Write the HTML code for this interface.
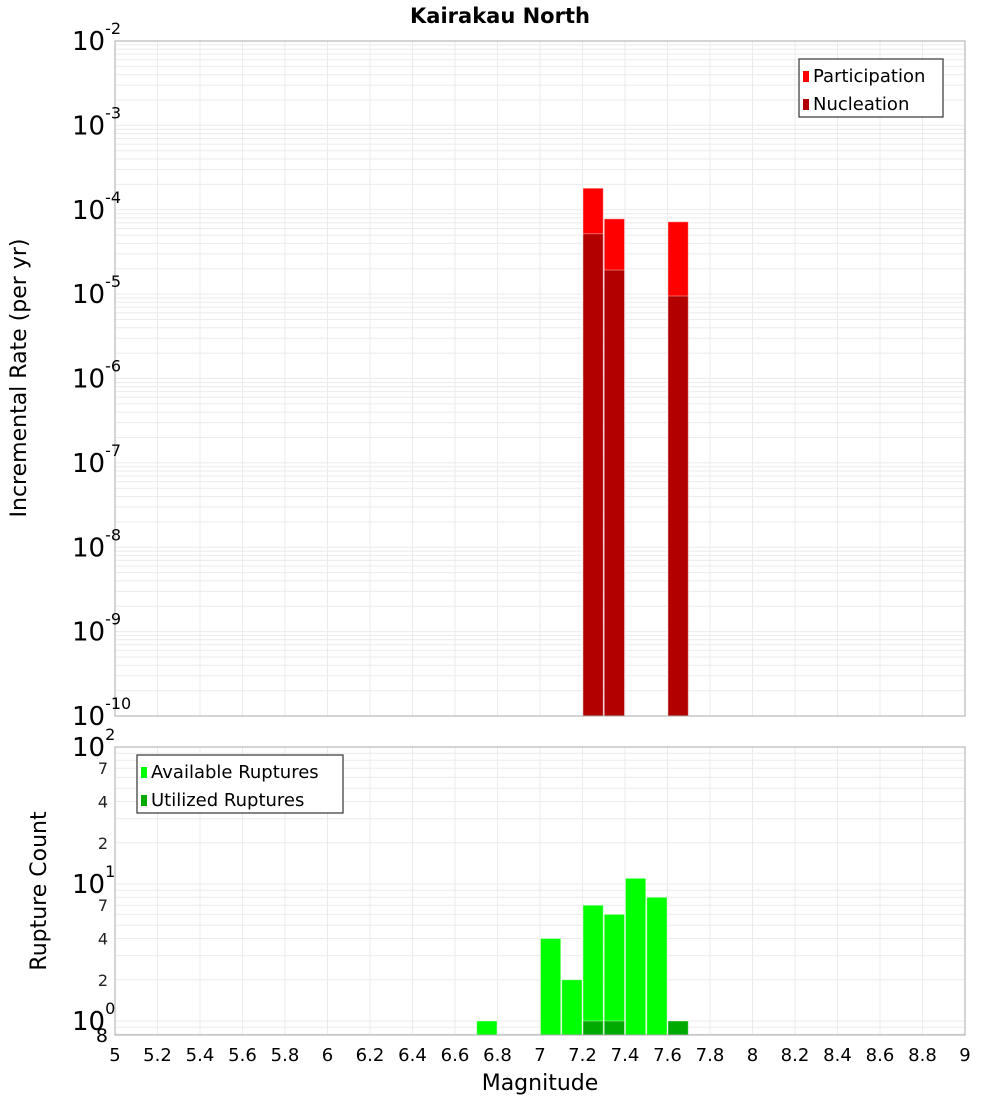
<!DOCTYPE html>
<html><head><meta charset="utf-8"><style>
body{margin:0;background:#fff;}
svg{display:block;font-family:"DejaVu Sans","Liberation Sans",sans-serif;}
</style></head><body>
<svg id="c" width="1000" height="1100">
<text x="500" y="23" text-anchor="middle" font-size="21" font-weight="bold">Kairakau North</text>
<g id="gtop"></g><g id="gbot"></g>
<text transform="translate(26,378) rotate(-90)" text-anchor="middle" font-size="22">Incremental Rate (per yr)</text>
<text transform="translate(46,891) rotate(-90)" text-anchor="middle" font-size="22">Rupture Count</text>
<text x="540" y="1090" text-anchor="middle" font-size="22">Magnitude</text>
</svg>
<script>
const mags=[7.25,7.35,7.65];
const participation=[1.8e-4,7.8e-5,7.2e-5];
const nucleation=[5.2e-5,1.93e-5,9.5e-6];
const availMags=[6.75,7.05,7.15,7.25,7.35,7.45,7.55];
const availCounts=[1,4,2,7,6,11,8];
const utilMags=[7.25,7.35,7.65];
const utilCounts=[1,1,1];
const xTicks=[5,5.2,5.4,5.6,5.8,6,6.2,6.4,6.6,6.8,7,7.2,7.4,7.6,7.8,8,8.2,8.4,8.6,8.8,9];
const topExps=[-2,-3,-4,-5,-6,-7,-8,-9,-10];
const botMinor=[2,4,7];

const NS="http://www.w3.org/2000/svg";
const X0=115,X1=965;
const x=m=>X0+(m-5)/4*(X1-X0);
const T0=41,T1=716;
const yTop=v=>T0+(-2-Math.log10(v))/8*(T1-T0);
const B0=747,B1=1035,BD=137;
const yBot=v=>B0+(2-Math.log10(v))*BD;
function el(p,t,a){const e=document.createElementNS(NS,t);for(const k in a)e.setAttribute(k,a[k]);p.appendChild(e);return e;}
const gTop=document.getElementById('gtop'),gBot=document.getElementById('gbot');

for(let d=-10;d<-2;d++)for(let k=1;k<10;k++){const yy=yTop(k*Math.pow(10,d));if(yy<T0||yy>T1)continue;
 const g=el(gTop,'line',{x1:X0,x2:X1,y1:yy,y2:yy,stroke:'#ebebeb','stroke-width':1});
 
 }
for(let d=-1;d<2;d++)for(let k=1;k<10;k++){const yy=yBot(k*Math.pow(10,d));if(yy<B0||yy>B1)continue;
 const g=el(gBot,'line',{x1:X0,x2:X1,y1:yy,y2:yy,stroke:'#ebebeb','stroke-width':1});
 
 }
xTicks.forEach(t=>{[[gTop,T0,T1],[gBot,B0,B1]].forEach(([p,a,b])=>{
 const g=el(p,'line',{x1:x(t),x2:x(t),y1:a,y2:b,stroke:'#ebebeb','stroke-width':1});
 
 });
 const tx=el(gBot,'text',{x:x(t),y:1061,'text-anchor':'middle','font-size':18});tx.textContent=String(t);
 
 });

function bar(p,m,y,yb,fill,name){const r=el(p,'rect',{x:x(m-0.05)+0.5,width:x(0.1+5)-X0-1,y:y,height:Math.max(0,yb-y),fill:fill,stroke:'#fff','stroke-opacity':0.4,'stroke-width':1});
 
 }
mags.forEach((m,i)=>bar(gTop,m,yTop(participation[i]),T1,'#ff0000','participation-bar'));
mags.forEach((m,i)=>bar(gTop,m,yTop(nucleation[i]),T1,'#b20000','nucleation-bar'));
availMags.forEach((m,i)=>bar(gBot,m,yBot(availCounts[i]),B1,'#00ff00','available-ruptures-bar'));
utilMags.forEach((m,i)=>bar(gBot,m,yBot(utilCounts[i]),B1,'#00aa00','utilized-ruptures-bar'));

let f=el(gTop,'rect',{x:X0,y:T0,width:X1-X0,height:T1-T0,fill:'none',stroke:'#aaa'});


f=el(gBot,'rect',{x:X0,y:B0,width:X1-X0,height:B1-B0,fill:'none',stroke:'#aaa'});



function pow(p,yy,exp,name){const t=el(p,'text',{x:72,y:yy+9,'font-size':26});
 
 
 t.textContent='10';const s=el(t,'tspan',{dy:-16,'font-size':16});s.textContent=String(exp);}
topExps.forEach(e=>pow(gTop,yTop(Math.pow(10,e)),e,'top-y-tick-label'));
[2,1,0].forEach(e=>pow(gBot,yBot(Math.pow(10,e)),e,'bottom-y-tick-label'));
[1,10].forEach(d=>botMinor.forEach(k=>{const t=el(gBot,'text',{x:108,y:yBot(k*d)+6,'text-anchor':'end','font-size':16,fill:'#222'});t.textContent=String(k);
 
 }));
const e8=el(gBot,'text',{x:108,y:1042,'text-anchor':'end','font-size':19});e8.textContent='8';



function legend(p,lx,ly,w,items,name){const g=el(p,'g',{});
 
 
 el(g,'rect',{x:lx,y:ly,width:w,height:58,fill:'#fff',stroke:'#333','stroke-width':1.2});
 items.forEach((it,i)=>{el(g,'rect',{x:lx+4,y:ly+12+i*28,width:6,height:11,fill:it[1]});
  const t=el(g,'text',{x:lx+14,y:ly+23+i*28,'font-size':18});t.textContent=it[0];
  
  });}
legend(gTop,799,59,144,[['Participation','#ff0000'],['Nucleation','#b20000']],'top-legend');
legend(gBot,137,755,206,[['Available Ruptures','#00ff00'],['Utilized Ruptures','#00aa00']],'bottom-legend');
</script>
</body></html>
